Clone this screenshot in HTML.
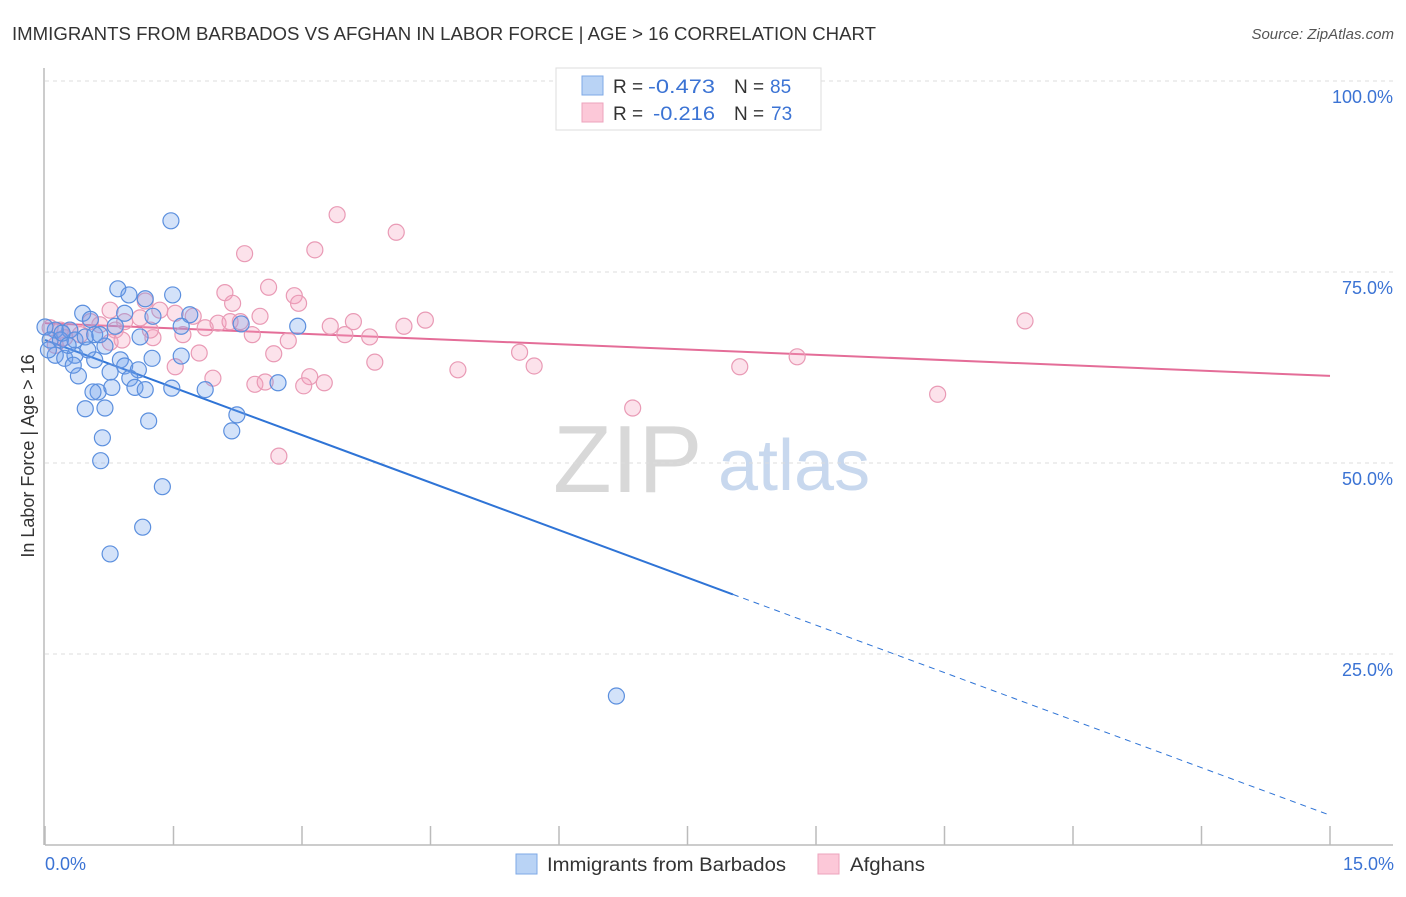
<!DOCTYPE html>
<html><head><meta charset="utf-8"><style>
body{margin:0;background:#fff;font-family:"Liberation Sans",sans-serif;}
svg text{font-family:"Liberation Sans",sans-serif;}
</style></head><body>
<svg id="chart" width="1406" height="892" xmlns="http://www.w3.org/2000/svg">
<text x="12" y="40" font-size="18" fill="#333" textLength="864" lengthAdjust="spacingAndGlyphs">IMMIGRANTS FROM BARBADOS VS AFGHAN IN LABOR FORCE | AGE &gt; 16 CORRELATION CHART</text>
<text x="1394" y="39" font-size="15" fill="#555" font-style="italic" text-anchor="end">Source: ZipAtlas.com</text>
<g>
<text x="553" y="492" font-size="96" fill="#d8d8d8" font-family="Liberation Serif,serif">ZIP</text>
<text x="718" y="490" font-size="72" fill="#c8d8ee">atlas</text>
</g>
<g id="grid"></g>
<g id="axes"></g>
<g id="trend"></g>
<g id="points"></g>
<text transform="translate(34,456) rotate(-90)" font-size="18" fill="#333" text-anchor="middle">In Labor Force | Age &gt; 16</text>
<text x="45" y="870" font-size="18" fill="#3b73d4">0.0%</text>
<text x="1394" y="870" font-size="18" fill="#3b73d4" text-anchor="end">15.0%</text>
<g>
<rect x="556" y="68" width="265" height="62" fill="#fff" stroke="#ddd"/>
<rect x="582" y="76" width="21" height="19" fill="#b9d3f5" stroke="#7ea8e6"/>
<rect x="582" y="103" width="21" height="19" fill="#fcc8d8" stroke="#eda3bd"/>
<text x="613" y="93" font-size="19" fill="#333">R = <tspan fill="#3b73d4" x="648" textLength="67" lengthAdjust="spacingAndGlyphs">-0.473</tspan><tspan x="734">N = </tspan><tspan fill="#3b73d4" x="770">85</tspan></text>
<text x="613" y="120" font-size="19" fill="#333">R = <tspan fill="#3b73d4" x="653" textLength="62" lengthAdjust="spacingAndGlyphs">-0.216</tspan><tspan x="734">N = </tspan><tspan fill="#3b73d4" x="771">73</tspan></text>
</g>
<g>
<rect x="516" y="854" width="21" height="20" fill="#b9d3f5" stroke="#7ea8e6"/>
<text x="547" y="871" font-size="19" fill="#333" textLength="239" lengthAdjust="spacingAndGlyphs">Immigrants from Barbados</text>
<rect x="818" y="854" width="21" height="20" fill="#fcc8d8" stroke="#eda3bd"/>
<text x="850" y="871" font-size="19" fill="#333" textLength="75" lengthAdjust="spacingAndGlyphs">Afghans</text>
</g>
</svg>
<script>
const yTicks=[25,50,75,100];
const yTickLabels=["25.0%","50.0%","75.0%","100.0%"];
const xTicks=[0,1.5,3,4.5,6,7.5,9,10.5,12,13.5,15];
const blueX=[1.47,0.85,0.98,1.17,1.49,0.44,0.93,1.26,1.69,1.59,2.29,2.95,0.82,0.53,1.11,0.29,0.12,0,0.06,0.18,0.35,0.47,0.58,0.7,0.12,0.23,0.35,0.58,0.88,1.25,1.59,0.39,0.76,0.93,1.09,0.99,1.05,1.17,1.48,1.87,2.72,0.62,0.78,0.47,0.7,0.56,1.21,2.24,2.18,0.67,0.65,1.37,1.14,0.76,6.67,0.2,0.27,0.04,0.64,0.5,0.33];
const blueY=[81.7,72.8,72.0,71.5,72.0,69.6,69.6,69.2,69.4,67.9,68.2,67.9,67.9,68.8,66.5,67.4,67.4,67.8,66.1,66.1,66.1,66.5,66.8,65.3,64.1,63.7,64.1,63.5,63.5,63.7,64.0,61.4,61.9,62.7,62.2,61.1,59.9,59.6,59.8,59.6,60.5,59.3,59.9,57.1,57.2,59.3,55.5,56.3,54.2,53.3,50.3,46.9,41.6,38.1,19.5,67.0,65.4,64.8,66.8,64.8,62.8];
const pinkX=[3.41,4.1,2.33,3.15,2.61,2.91,2.96,2.1,2.19,1.17,1.34,1.52,1.73,2.02,2.16,2.28,1.87,1.61,1.26,2.51,2.42,2.84,3.33,3.6,3.5,3.79,4.19,4.44,11.44,5.54,5.71,4.82,3.85,2.67,1.8,1.96,2.45,2.57,3.09,3.26,3.02,2.73,6.86,8.11,8.78,10.42,0.06,0.18,0.29,0.53,0.64,0.82,0.93,0.76,0.9,0.41,0.23,0.12,1.52,1.23,0.76,1.11];
const pinkY=[82.5,80.2,77.4,77.9,73.0,71.9,70.9,72.3,70.9,71.2,70.0,69.6,69.2,68.3,68.5,68.5,67.7,66.8,66.4,69.2,66.8,66.0,67.9,68.5,66.8,66.5,67.9,68.7,68.6,64.5,62.7,62.2,63.2,64.3,64.4,61.1,60.3,60.6,61.3,60.5,60.1,50.9,57.2,62.6,63.9,59.0,67.7,67.4,67.4,68.5,68.1,67.4,68.5,65.8,66.1,66.8,66.4,65.4,62.6,67.4,70.0,69.0];
const blueTrend=[66.1,3.9];
const blueSolidEnd=8.03;
const pinkTrend=[68.3,61.4];
const NS="http://www.w3.org/2000/svg";
const sx=v=>45+v*(1330-45)/15;
const sy=v=>845-v*(845-81)/100;
function mk(tag,attrs,parent){const e=document.createElementNS(NS,tag);for(const k in attrs)e.setAttribute(k,attrs[k]);document.getElementById(parent).appendChild(e);return e;}
yTicks.forEach((t,i)=>{
 const l=mk('line',{x1:45,x2:1393,y1:sy(t),y2:sy(t),stroke:'#ddd','stroke-dasharray':'4,4'},'grid');
 
 
 const tx=mk('text',{x:1393,y:sy(t)+22,'font-size':18,fill:'#3b73d4','text-anchor':'end'},'grid');
 tx.textContent=yTickLabels[i];
 
 
});
const ax=mk('line',{x1:45,x2:1393,y1:845,y2:845,stroke:'#bbb','stroke-width':1.5},'axes');


const ay=mk('line',{x1:44,x2:44,y1:68,y2:845,stroke:'#bbb','stroke-width':1.5},'axes');


xTicks.forEach(t=>{
 const l=mk('line',{x1:sx(t),x2:sx(t),y1:826,y2:845,stroke:'#bbb','stroke-width':1.5},'axes');
 
 
});
function pts(X,Y,fill,stroke,name){X.forEach((x,i)=>{
 const c=mk('circle',{cx:sx(x),cy:sy(Y[i]),r:8,fill:fill,stroke:stroke,'stroke-width':1.2},'points');
 
 
});}
pts(pinkX,pinkY,'rgba(245,160,190,0.3)','#e99ab5','afghan-point');
pts(blueX,blueY,'rgba(110,160,235,0.3)','#5b8fde','barbados-point');
const bv=x=>blueTrend[0]+(blueTrend[1]-blueTrend[0])*x/15;
const b1=mk('line',{x1:sx(0),y1:sy(bv(0)),x2:sx(blueSolidEnd),y2:sy(bv(blueSolidEnd)),stroke:'#2f74d6','stroke-width':2},'trend');


const b2=mk('line',{x1:sx(blueSolidEnd),y1:sy(bv(blueSolidEnd)),x2:sx(15),y2:sy(bv(15)),stroke:'#2f74d6','stroke-width':1,'stroke-dasharray':'6,5'},'trend');


const p1=mk('line',{x1:sx(0),y1:sy(pinkTrend[0]),x2:sx(15),y2:sy(pinkTrend[1]),stroke:'#e46d98','stroke-width':2},'trend');


</script>
</body></html>
